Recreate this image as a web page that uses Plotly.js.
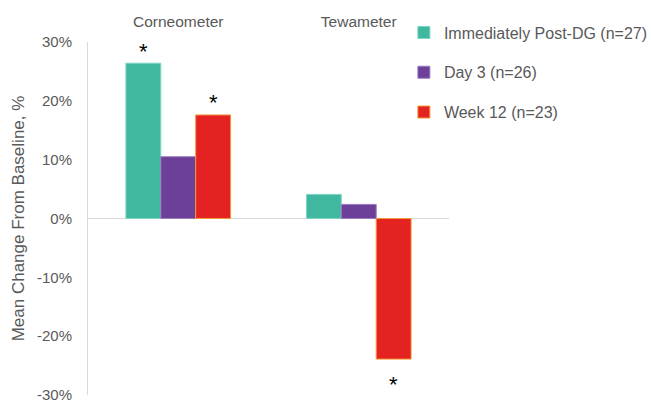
<!DOCTYPE html>
<html><head><meta charset="utf-8">
<script src="https://cdn.plot.ly/plotly-3.0.1.min.js"></script>
<style>body{margin:0;background:#fff}#c{width:651px;height:402px}</style>
</head><body><div id="c"></div>
<script>
const categories = ['Corneometer', 'Tewameter'];
const seriesNames = ['Immediately Post-DG (n=27)', 'Day 3 (n=26)', 'Week 12 (n=23)'];
const immediately = [0.264, 0.041];
const day3 = [0.105, 0.024];
const week12 = [0.176, -0.239];
const signifImmediately = ['*', ''];
const signifDay3 = ['', ''];
const signifWeek12 = ['*', '*'];
const yTicks = [-0.3, -0.2, -0.1, 0, 0.1, 0.2, 0.3];
const yTickLabels = ['-30%', '-20%', '-10%', '0%', '10%', '20%', '30%'];

const colors = ['#40B8A0', '#6C3F98', '#E52222'];
const lineColors = ['#7fd6c4', '#9a7cc0', '#f39a3a'];
const vals = [immediately, day3, week12];
const sig = [signifImmediately, signifDay3, signifWeek12];
const bargap = 0.42;

const traces = vals.map((v, i) => ({
  type: 'bar', x: categories, y: v, name: seriesNames[i],
  legendgroup: 'g' + i,
  marker: {color: colors[i], line: {color: lineColors[i], width: 1}},
  hoverinfo: 'skip'
}));

// significance asterisks placed at each bar's end
const barW = (1 - bargap) / vals.length;
const annotations = [];
vals.forEach((v, i) => {
  v.forEach((val, j) => {
    if (sig[i][j]) {
      annotations.push({
        x: j + (i - (vals.length - 1) / 2) * barW, y: val, xref: 'x', yref: 'y',
        text: sig[i][j], showarrow: false, yanchor: 'middle',
        yshift: val >= 0 ? 12 : -25,
        font: {size: 22, color: '#000', family: 'Liberation Sans, Arial'}
      });
    }
  });
});

const layout = {
  width: 651, height: 402,
  margin: {l: 88, r: 202, t: 42, b: 7, autoexpand: false},
  paper_bgcolor: '#fff', plot_bgcolor: '#fff',
  font: {family: 'Liberation Sans, Arial, sans-serif', color: '#595959', size: 15},
  barmode: 'group', bargap: bargap, bargroupgap: 0,
  showlegend: true,
  legend: {x: 0.875, xanchor: 'left', y: 1.075, yanchor: 'top', xref: 'paper',
    font: {size: 16, color: '#595959'}, tracegroupgap: 16, itemwidth: 30,
    bgcolor: 'rgba(0,0,0,0)'},
  annotations: annotations,
  xaxis: {side: 'top', range: [-0.5, 1.5], showline: false, showgrid: false,
    zeroline: false, ticks: '', tickfont: {size: 15.5, color: '#595959'}, ticklabelstandoff: 11},
  yaxis: {range: [-0.3, 0.3], tickvals: yTicks, ticktext: yTickLabels, tickmode: 'array',
    showgrid: false, zeroline: true, zerolinecolor: '#d9d9d9', zerolinewidth: 1,
    showline: true, linecolor: '#d9d9d9', linewidth: 1, ticks: '',
    ticklabeloverflow: 'allow',
    tickfont: {size: 15, color: '#595959'}, ticklabelstandoff: 12,
    title: {text: 'Mean Change From Baseline, %', font: {size: 17, color: '#595959'}, standoff: 8}}
};
Plotly.newPlot('c', traces, layout, {displayModeBar: false, staticPlot: true});
</script></body></html>
